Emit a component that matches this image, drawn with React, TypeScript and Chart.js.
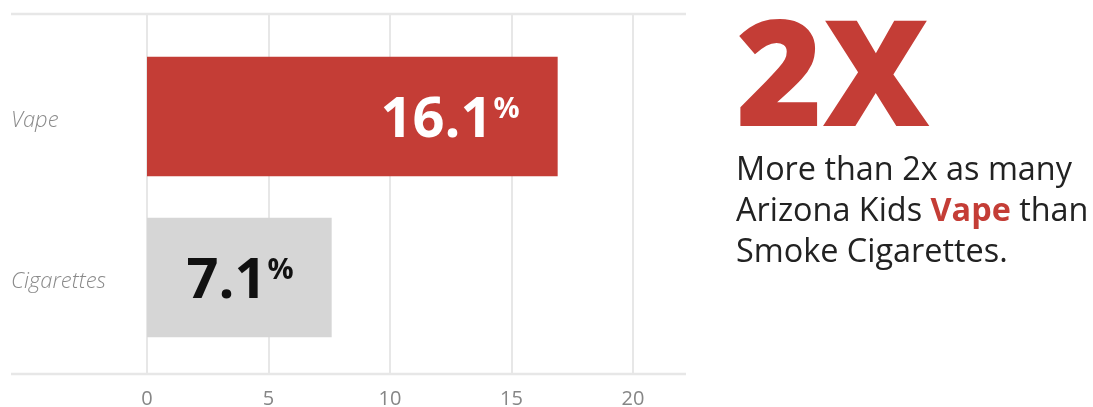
import React, { useEffect, useRef } from "react";
import { Chart, registerables } from "chart.js";

Chart.register(...registerables);

const categories = ["Vape", "Cigarettes"];
const barValues = [16.9, 7.6];
const valueLabels = ["16.1", "7.1"];
const barColors = ["#c43d36", "#d6d6d6"];
const valueLabelColors = ["#ffffff", "#111111"];
const xTicks = [0, 5, 10, 15, 20];
const headline = "2X";

const frameTop = 14;
const frameBottom = 374;
const frameLeft = 11;
const frameRight = 686;
const gridColor = "#e7e7e7";

const framePlugin = {
  id: "frame",
  beforeDatasetsDraw(chart: any) {
    const { ctx, scales } = chart;
    const xs = scales.x;
    ctx.save();
    ctx.strokeStyle = gridColor;
    ctx.lineWidth = 2;
    xTicks.forEach((t) => {
      const px = Math.round(xs.getPixelForValue(t));
      ctx.beginPath();
      ctx.moveTo(px, frameTop);
      ctx.lineTo(px, frameBottom);
      ctx.stroke();
    });
    ctx.lineWidth = 2.5;
    ctx.beginPath();
    ctx.moveTo(frameLeft, frameTop);
    ctx.lineTo(frameRight, frameTop);
    ctx.moveTo(frameLeft, frameBottom);
    ctx.lineTo(frameRight, frameBottom);
    ctx.stroke();
    ctx.restore();
  },
};

const valueLabelPlugin = {
  id: "valueLabels",
  afterDatasetsDraw(chart: any) {
    const { ctx } = chart;
    const meta = chart.getDatasetMeta(0);
    ctx.save();
    meta.data.forEach((bar: any, i: number) => {
      const right = bar.x - 38;
      ctx.fillStyle = valueLabelColors[i];
      ctx.textBaseline = "alphabetic";
      ctx.textAlign = "right";
      ctx.font = '700 29px "Open Sans"';
      const pw = ctx.measureText("%").width;
      ctx.fillText("%", right, bar.y + 1);
      ctx.font = '700 56px "Open Sans"';
      ctx.fillText(valueLabels[i], right - pw - 1, bar.y + 20);
    });
    ctx.restore();
  },
};

export default function App() {
  const canvasRef = useRef<HTMLCanvasElement | null>(null);

  useEffect(() => {
    if (!canvasRef.current) return;
    const chart = new Chart(canvasRef.current, {
      type: "bar",
      data: {
        labels: categories,
        datasets: [
          {
            data: barValues,
            backgroundColor: barColors,
            borderWidth: 0,
            barPercentage: 0.743,
            categoryPercentage: 1,
          },
        ],
      },
      options: {
        indexAxis: "y",
        responsive: false,
        animation: false,
        devicePixelRatio: 1,
        layout: { padding: { top: 36, left: 11, right: 67, bottom: 0 } },
        plugins: {
          legend: { display: false },
          tooltip: { enabled: false },
        },
        scales: {
          x: {
            min: 0,
            max: 20,
            afterBuildTicks: (scale: any) => {
              scale.ticks = xTicks.map((v) => ({ value: v }));
            },
            afterFit: (scale: any) => {
              scale.height = 49;
            },
            grid: { display: false, drawTicks: false },
            border: { display: false },
            ticks: {
              padding: 29,
              color: "#868686",
              font: { family: "Open Sans", size: 20 },
            },
          },
          y: {
            afterFit: (scale: any) => {
              scale.width = 136;
            },
            grid: { display: false, drawTicks: false },
            border: { display: false },
            ticks: {
              crossAlign: "far",
              padding: 0,
              labelOffset: 4,
              color: "#8a8a8a",
              font: { family: "Open Sans", size: 22, style: "italic", weight: "300" },
            },
          },
        },
      },
      plugins: [framePlugin, valueLabelPlugin],
    } as any);
    return () => chart.destroy();
  }, []);

  return (
    <div
      style={{
        position: "fixed",
        left: 0,
        top: 0,
        width: 1093,
        height: 407,
        background: "#ffffff",
        fontFamily: '"Open Sans", sans-serif',
      }}
    >
      <canvas
        ref={canvasRef}
        width={700}
        height={407}
        style={{ position: "absolute", left: 0, top: 0, width: 700, height: 407 }}
      />
      <div
        style={{
          position: "absolute",
          left: 736,
          top: -5,
          fontSize: 148,
          lineHeight: "148px",
          fontWeight: 800,
          color: "#c43d36",
          whiteSpace: "nowrap",
        }}
      >
        {headline}
      </div>
      <div
        style={{
          position: "absolute",
          left: 736,
          top: 147,
          fontSize: 32.4,
          lineHeight: "41px",
          color: "#222222",
          whiteSpace: "nowrap",
        }}
      >
        More than 2x as many
        <br />
        Arizona Kids <span style={{ color: "#c43d36", fontWeight: 700 }}>Vape</span> than
        <br />
        Smoke Cigarettes.
      </div>
    </div>
  );
}
